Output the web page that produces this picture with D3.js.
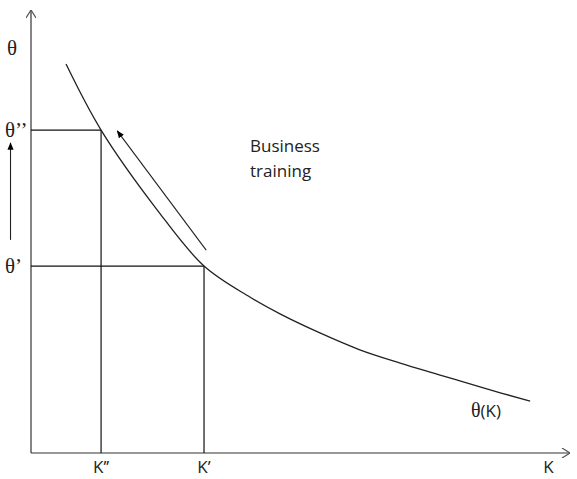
<!DOCTYPE html>
<html><head><meta charset="utf-8">
<script src="https://cdn.jsdelivr.net/npm/d3@7"></script>
<style>body{margin:0;background:#fff}svg{display:block}</style>
</head><body>
<script>
// Data (abstract units: K on 0..10, theta on 0..10)
const curveK     = [0.65, 1.30, 2.34, 3.21, 4.06, 4.62, 5.36, 6.10, 6.85, 7.59, 8.33, 9.26];
const curveTheta = [8.78, 7.29, 5.49, 4.22, 3.52, 3.14, 2.71, 2.33, 2.03, 1.76, 1.49, 1.17];
const kTicks     = [1.30, 3.21, 9.6];
const kLabels    = ["K\u2019\u2019", "K\u2019", "K"];
const thetaTicks = [7.29, 4.22];
const thetaLabels= ["\u03b8\u2019\u2019", "\u03b8\u2019"];
const trainArrowK = [3.25, 1.60];
const trainArrowT = [4.58, 7.27];
const sideArrowT  = [4.81, 7.00];

const W = 577, H = 479;
const x = d3.scaleLinear().domain([0, 10]).range([31, 570]);
const y = d3.scaleLinear().domain([0, 10]).range([453, 10]);

const svg = d3.select("body").append("svg").attr("width", W).attr("height", H);
const defs = svg.append("defs");
defs.append("marker").attr("id","fill").attr("viewBox","0 0 10 10").attr("refX",9).attr("refY",5)
  .attr("markerWidth",7).attr("markerHeight",7).attr("orient","auto")
  .append("path").attr("d","M0,1 L10,5 L0,9 Z").attr("fill","#000");
defs.append("marker").attr("id","open").attr("viewBox","0 0 10 10").attr("refX",10).attr("refY",5)
  .attr("markerWidth",10).attr("markerHeight",10).attr("markerUnits","userSpaceOnUse").attr("orient","auto")
  .append("path").attr("d","M2,0 L10,5 L2,10").attr("fill","none").attr("stroke","#555").attr("stroke-width",1.2);

// axes
svg.append("line").attr("x1",x(0)).attr("y1",y(0)).attr("x2",x(0)).attr("y2",y(10))
  .attr("stroke","#333").attr("stroke-width",1.2).attr("marker-end","url(#open)");
svg.append("line").attr("x1",x(0)).attr("y1",y(0)).attr("x2",x(10)).attr("y2",y(0))
  .attr("stroke","#333").attr("stroke-width",1.2).attr("marker-end","url(#open)");

// guide lines
thetaTicks.forEach((t,i)=>{
  const k = kTicks[i];
  svg.append("line").attr("x1",x(0)).attr("y1",y(t)).attr("x2",x(k)).attr("y2",y(t)).attr("stroke","#111").attr("stroke-width",1.2);
  svg.append("line").attr("x1",x(k)).attr("y1",y(t)).attr("x2",x(k)).attr("y2",y(0)).attr("stroke","#111").attr("stroke-width",1.2);
});

// curve
const pts = curveK.map((k,i)=>[k, curveTheta[i]]);
svg.append("path").datum(pts)
  .attr("d", d3.line().x(d=>x(d[0])).y(d=>y(d[1])).curve(d3.curveCatmullRom.alpha(0.5)))
  .attr("fill","none").attr("stroke","#222").attr("stroke-width",1.3);

// arrows
svg.append("line").attr("x1",x(trainArrowK[0])).attr("y1",y(trainArrowT[0]))
  .attr("x2",x(trainArrowK[1])).attr("y2",y(trainArrowT[1]))
  .attr("stroke","#222").attr("stroke-width",1.1).attr("marker-end","url(#fill)");
svg.append("line").attr("x1",x(-0.38)).attr("y1",y(sideArrowT[0]))
  .attr("x2",x(-0.38)).attr("y2",y(sideArrowT[1]))
  .attr("stroke","#222").attr("stroke-width",1.1).attr("marker-end","url(#fill)");

// labels
const serif = "'Liberation Serif','DejaVu Serif',serif";
const sans = "'Open Sans','Liberation Sans',sans-serif";
svg.append("text").attr("x",7).attr("y",55).attr("font-family",serif).attr("font-size",21).attr("fill","#222").text("\u03b8");
thetaLabels.forEach((l,i)=>{
  svg.append("text").attr("x",5).attr("y",y(thetaTicks[i])+7).attr("font-family",serif).attr("font-size",21).attr("fill","#222").text(l);
});
kLabels.forEach((l,i)=>{
  svg.append("text").attr("x",x(kTicks[i])).attr("y",473).attr("text-anchor","middle")
    .attr("font-family",sans).attr("font-size",17).attr("fill","#222").text(l);
});
const tk = svg.append("text").attr("x",471).attr("y",417).attr("fill","#222");
tk.append("tspan").attr("font-family",serif).attr("font-size",20).text("\u03b8");
tk.append("tspan").attr("font-family",sans).attr("font-size",17).text("(K)");
svg.append("text").attr("x",250).attr("y",152).attr("font-family",sans).attr("font-size",17).attr("fill","#222").text("Business");
svg.append("text").attr("x",250).attr("y",177).attr("font-family",sans).attr("font-size",17).attr("fill","#222").text("training");
</script>
</body></html>
